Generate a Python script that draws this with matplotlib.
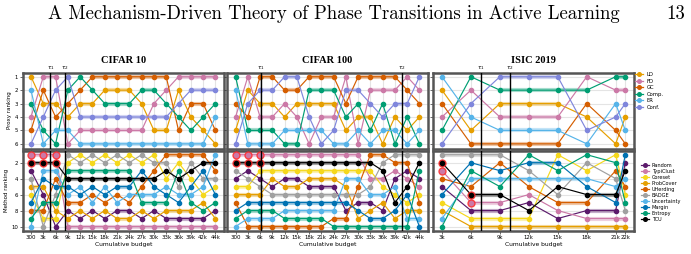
import matplotlib
matplotlib.use("Agg")
import matplotlib.pyplot as plt
from matplotlib.lines import Line2D

# budgets on the x axis
cifar_ticks = ["300", "3k", "6k", "9k", "12k", "15k", "18k", "21k", "24k",
               "27k", "30k", "33k", "36k", "39k", "42k", "44k"]
isic_budget = [3000, 6000, 9000, 12000, 15000, 18000, 21000, 22000]
isic_ticks = ["3k", "6k", "9k", "12k", "15k", "18k", "21k", "22k"]

proxy_names = ["LD", "FD", "GC", "Comp.", "ER", "Conf."]
proxy_colors = ["#E69F00", "#CC79A7", "#D55E00", "#009E73", "#56B4E9", "#7F86DC"]

method_names = ["Random", "TypiClust", "Coreset", "ProbCover", "UHerding",
                "BADGE", "Uncertainty", "Margin", "Entropy", "TCU"]
method_colors = ["#5B1A6B", "#CC79A7", "#F5D81C", "#E69F00", "#D55E00",
                 "#A0A0A0", "#56B4E9", "#0072B2", "#009E73", "#000000"]
highlight = ["TypiClust", "TCU"]

# ---- CIFAR 10 ----
c10_proxy = {
    "LD":    [1, 3, 3, 4, 3, 3, 2, 2, 2, 3, 5, 5, 2, 4, 5, 6],
    "FD":    [4, 1, 1, 6, 5, 5, 5, 5, 5, 5, 3, 2, 1, 1, 1, 1],
    "GC":    [5, 2, 4, 3, 2, 1, 1, 1, 1, 1, 1, 1, 5, 3, 3, 5],
    "Comp.": [3, 5, 6, 2, 1, 2, 3, 3, 3, 2, 2, 3, 4, 5, 4, 3],
    "ER":    [2, 6, 5, 5, 6, 6, 6, 6, 6, 6, 6, 6, 6, 6, 6, 4],
    "Conf.": [6, 4, 2, 1, 4, 4, 4, 4, 4, 4, 4, 4, 3, 2, 2, 2],
}
c10_method = {
    "Random":      [3, 6, 10, 8, 9, 8, 9, 8, 8, 9, 8, 9, 9, 9, 9, 8],
    "TypiClust":   [1, 1, 1, 10, 10, 10, 10, 10, 10, 10, 10, 10, 10, 10, 10, 10],
    "Coreset":     [6, 9, 9, 2, 1, 2, 1, 2, 1, 2, 1, 4, 2, 4, 6, 5],
    "ProbCover":   [5, 5, 8, 9, 8, 9, 8, 9, 9, 8, 9, 8, 8, 8, 7, 9],
    "UHerding":    [8, 8, 4, 7, 7, 6, 7, 6, 7, 5, 3, 1, 1, 1, 1, 3],
    "BADGE":       [4, 10, 6, 1, 2, 1, 2, 1, 2, 1, 2, 2, 5, 2, 4, 4],
    "Uncertainty": [10, 3, 3, 6, 5, 7, 5, 7, 6, 6, 6, 5, 6, 6, 5, 1],
    "Margin":      [7, 4, 5, 5, 6, 5, 6, 5, 5, 3, 5, 6, 7, 5, 3, 6],
    "Entropy":     [9, 7, 7, 3, 3, 3, 3, 3, 3, 7, 7, 7, 3, 7, 8, 7],
    "TCU":         [2, 2, 2, 4, 4, 4, 4, 4, 4, 4, 4, 3, 4, 3, 2, 2],
}
c10_tau = [1.58, 2.74]

# ---- CIFAR 100 ----
c100_proxy = {
    "LD":    [5, 2, 3, 3, 4, 3, 3, 3, 3, 5, 4, 4, 6, 4, 5, 4],
    "FD":    [4, 1, 4, 4, 3, 4, 6, 4, 4, 1, 6, 2, 2, 2, 1, 2],
    "GC":    [3, 4, 1, 1, 2, 2, 1, 1, 1, 3, 1, 1, 1, 1, 2, 3],
    "Comp.": [1, 5, 5, 5, 6, 6, 2, 2, 2, 4, 3, 5, 3, 6, 4, 6],
    "ER":    [2, 6, 6, 6, 5, 5, 5, 5, 6, 6, 5, 6, 5, 5, 6, 5],
    "Conf.": [6, 3, 2, 2, 1, 1, 4, 6, 5, 2, 2, 3, 4, 3, 3, 1],
}
c100_method = {
    "Random":      [4, 3, 4, 5, 4, 4, 5, 5, 5, 8, 7, 7, 8, 4, 3, 4],
    "TypiClust":   [1, 1, 1, 1, 1, 1, 1, 1, 1, 1, 1, 4, 4, 3, 4, 5],
    "Coreset":     [5, 5, 3, 3, 3, 3, 3, 3, 3, 3, 3, 3, 5, 6, 7, 6],
    "ProbCover":   [6, 6, 6, 4, 5, 5, 4, 4, 4, 5, 9, 8, 7, 9, 8, 8],
    "UHerding":    [7, 10, 10, 10, 10, 10, 10, 10, 9, 9, 5, 1, 1, 2, 2, 7],
    "BADGE":       [3, 4, 5, 6, 6, 6, 6, 6, 6, 6, 6, 5, 2, 1, 1, 1],
    "Uncertainty": [10, 9, 9, 9, 8, 8, 8, 8, 8, 4, 4, 6, 6, 5, 9, 9],
    "Margin":      [8, 7, 7, 7, 7, 7, 7, 7, 7, 7, 8, 9, 9, 8, 6, 10],
    "Entropy":     [9, 8, 8, 8, 9, 9, 9, 9, 10, 10, 10, 10, 10, 10, 10, 3],
    "TCU":         [2, 2, 2, 2, 2, 2, 2, 2, 2, 2, 2, 2, 3, 7, 5, 2],
}
c100_tau = [2.1, 13.6]

# ---- ISIC 2019 ----
isic_proxy = {
    "LD":    [2, 5, 3, 3, 3, 4, 6, 4],
    "FD":    [4, 2, 4, 4, 4, 1, 2, 2],
    "GC":    [3, 6, 6, 6, 6, 3, 5, 6],
    "Comp.": [5, 1, 2, 2, 2, 2, 1, 1],
    "ER":    [1, 4, 5, 5, 5, 6, 3, 5],
    "Conf.": [6, 3, 1, 1, 1, 5, 4, 3],
}
isic_method = {
    "Random":      [5, 8, 8, 7, 9, 8, 8, 2],
    "TypiClust":   [3, 7, 7, 6, 8, 9, 9, 9],
    "Coreset":     [7, 9, 9, 9, 1, 3, 1, 6],
    "ProbCover":   [8, 10, 10, 10, 10, 10, 10, 10],
    "UHerding":    [4, 5, 2, 5, 7, 7, 3, 5],
    "BADGE":       [1, 1, 1, 3, 6, 2, 4, 8],
    "Uncertainty": [9, 4, 4, 4, 4, 4, 5, 4],
    "Margin":      [6, 2, 3, 2, 2, 5, 7, 1],
    "Entropy":     [10, 3, 5, 1, 3, 1, 2, 7],
    "TCU":         [2, 6, 6, 8, 5, 6, 6, 3],
}
isic_tau = [7000, 10000]

W, H = 691, 254
fig = plt.figure(figsize=(W / 100, H / 100), dpi=100)

fig.text(334 / W, 1 - 14 / H, "A Mechanism-Driven Theory of Phase Transitions in Active Learning",
         ha="center", va="center", fontsize=13.5, family="cmr10")
fig.text(676 / W, 1 - 14 / H, "13", ha="center", va="center", fontsize=13.5, family="cmr10")


def box(x0, x1, y0, y1):
    return [x0 / W, 1 - y1 / H, (x1 - x0) / W, (y1 - y0) / H]


def style_ax(ax):
    for s in ax.spines.values():
        s.set_linewidth(1.8)
        s.set_color("#555555")
    ax.grid(True, color="#e4e4e4", lw=0.8, zorder=0)
    ax.tick_params(labelsize=3.9, length=2, width=0.5, pad=1.5, color="#333333")


def draw(ax, x, series, names, colors, n_hl=0):
    for name, col in zip(names, colors):
        y = series[name]
        # flat stretches get a faint wide band underneath
        for i in range(len(y) - 1):
            if y[i] == y[i + 1]:
                ax.plot(x[i:i + 2], y[i:i + 2], color=col, lw=3.0, alpha=0.35,
                        solid_capstyle="butt", zorder=2)
        z = 4 if name == "TCU" else 3
        ax.plot(x, y, "-o", color=col, lw=0.85, ms=3.0, zorder=z)
        if name in highlight and n_hl:
            ax.plot(x[:n_hl], y[:n_hl], "o", ms=5.0, mfc=col, mec="#ff2a2a",
                    mew=1.0, alpha=0.85, zorder=5)


def taus(ax, tau, label=True):
    for k, t in enumerate(tau):
        ax.axvline(t, color="black", lw=1.0, zorder=6)
        if label:
            ax.text(t, 1.01, r"$\tau_%d$" % (k + 1), transform=ax.get_xaxis_transform(),
                    ha="center", va="bottom", fontsize=4.2)


panels = [
    ("CIFAR 10", 23, 224, list(range(16)), cifar_ticks, c10_proxy, c10_method, c10_tau, 3, (-0.65, 15.7)),
    ("CIFAR 100", 227, 428, list(range(16)), cifar_ticks, c100_proxy, c100_method, c100_tau, 3, (-0.7, 15.7)),
    ("ISIC 2019", 433, 634, isic_budget, isic_ticks, isic_proxy, isic_method, isic_tau, 2, (2070, 22900)),
]

for j, (title, x0, x1, xs, xt, prox, meth, tau, nh, xl) in enumerate(panels):
    ax_top = fig.add_axes(box(x0, x1, 72.7, 148.5))
    ax_bot = fig.add_axes(box(x0, x1, 150.7, 230.5))
    draw(ax_top, xs, prox, proxy_names, proxy_colors)
    draw(ax_bot, xs, meth, method_names, method_colors, n_hl=nh)
    for ax in (ax_top, ax_bot):
        style_ax(ax)
        ax.set_xlim(*xl)
        ax.set_xticks(xs)
    taus(ax_top, tau)
    taus(ax_bot, tau, label=False)
    ax_top.set_ylim(6.35, 0.7)
    ax_top.set_yticks(range(1, 7))
    ax_top.set_xticklabels([])
    ax_bot.set_ylim(10.5, 0.5)
    ax_bot.set_yticks([2, 4, 6, 8, 10])
    ax_bot.set_xticklabels(xt)
    ax_bot.set_xlabel("Cumulative budget", fontsize=4.3, labelpad=1)
    ax_top.set_title(title, fontsize=7.5, fontweight="bold", family="Liberation Serif", pad=7)
    if j == 0:
        ax_top.set_ylabel("Proxy ranking", fontsize=4.0, labelpad=2)
        ax_bot.set_ylabel("Method ranking", fontsize=4.0, labelpad=1.5)
    else:
        ax_top.set_yticklabels([])
        ax_bot.set_yticklabels([])

leg_kw = dict(frameon=False, handlelength=1.6, handletextpad=0.6, borderaxespad=0,
              borderpad=0, loc="upper left", bbox_transform=fig.transFigure)
ph = [Line2D([], [], color=c, marker="o", lw=0.9, ms=2.6) for c in proxy_colors]
fig.legend(ph, proxy_names, bbox_to_anchor=(635 / W, 1 - 72 / H), fontsize=3.8,
           labelspacing=0.3, **leg_kw)
mh = [Line2D([], [], color=c, marker="o", lw=0.9, ms=2.6) for c in method_colors]
fig.legend(mh, method_names, bbox_to_anchor=(641 / W, 1 - 163 / H), fontsize=3.6,
           labelspacing=0.2, **leg_kw)

fig.savefig("out.png", dpi=100)
